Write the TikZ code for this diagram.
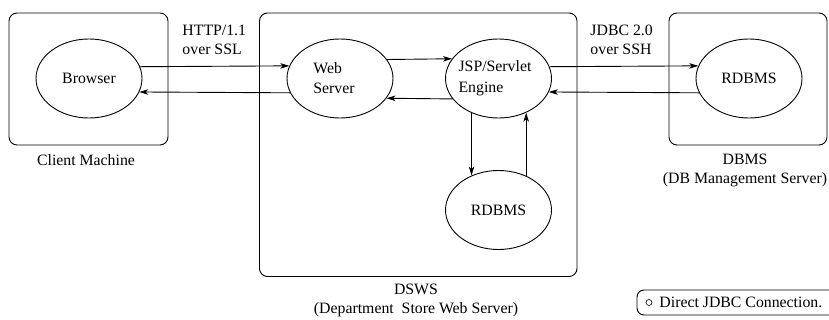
\documentclass[tikz,border=0pt]{standalone}
\usepackage{fontspec}
\setmainfont{Liberation Serif}
\usetikzlibrary{shapes.geometric,arrows.meta}
\begin{document}
\begin{tikzpicture}[x=1pt,y=-1pt,
  font=\fontsize{15.8}{19}\selectfont,
  line width=0.9pt,
  machine/.style={draw, rounded corners=8pt, inner sep=0pt},
  proc/.style={draw, ellipse, minimum width=106pt, minimum height=79pt,
    inner sep=0pt, align=left},
  inside/.style={inner sep=0pt, align=left, font=\fontsize{15.8}{20.5}\selectfont},
  flow/.style={-{Stealth[length=9pt,width=5.5pt,inset=2.5pt]}},
  caption/.style={align=center, inner sep=0pt},
  note/.style={anchor=west, align=left, inner sep=0pt}]
\useasboundingbox (0,0) rectangle (829,320);

% machines
\node[machine, minimum width=159pt, minimum height=132pt] (client) at (88.5,79) {};
\node[machine, minimum width=317.5pt, minimum height=263.5pt] (dsws) at (418.25,144.75) {};
\node[machine, minimum width=158pt, minimum height=132pt] (dbms) at (748,79) {};

% processes
\node[proc] (br)   at (89,78.5)    {Browser};
\node[proc] (web)  at (340,78.5)   {};
\node[inside] (webtxt) at (334,78) {Web\\Server};
\node[proc] (jsp)  at (498.5,78.5) {};
\node[inside] (jsptxt) at (495,78) {JSP/Servlet\\Engine};
\node[proc] (rdb)  at (749,78.5)   {RDBMS};
\node[proc] (ldb)  at (498.5,210)  {RDBMS};

% connections
\draw[flow] (br.13.4) -- (web.166.6);
\draw[flow] (web.-164.2) -- (br.-15.8);
\draw[flow] (web.22.2) -- (jsp.157.8);
\draw[flow] (jsp.-156.4) -- (web.-23.6);
\draw[flow] (jsp.13.4) -- (rdb.166.6);
\draw[flow] (rdb.-164.2) -- (jsp.-15.8);
\draw[flow] (jsp.-128.5) -- (ldb.128.5);
\draw[flow] (ldb.51.5) -- (jsp.-51.5);

% protocol notes
\node[note] (http) at (182,39.5) {HTTP/1.1\\over SSL};
\node[note] (jdbc) at (590,39.5) {JDBC 2.0\\over SSH};

% machine captions
\node[caption] (clientlbl) at (86,160) {Client Machine};
\node[caption] (dswslbl) at (416,300) {DSWS\\(Department\ \ Store Web Server)};
\node[caption] (dbmslbl) at (745,170) {DBMS\\(DB Management Server)};

% legend
\draw[rounded corners=7pt] (830,290) -- (637,290) -- (637,315) -- (830,315);
\node[draw, circle, line width=0.6pt, minimum size=6pt, inner sep=0pt] (dot) at (649,302.5) {};
\node[note] (legend) at (659,302.5) {Direct JDBC Connection.};
\end{tikzpicture}
\end{document}
